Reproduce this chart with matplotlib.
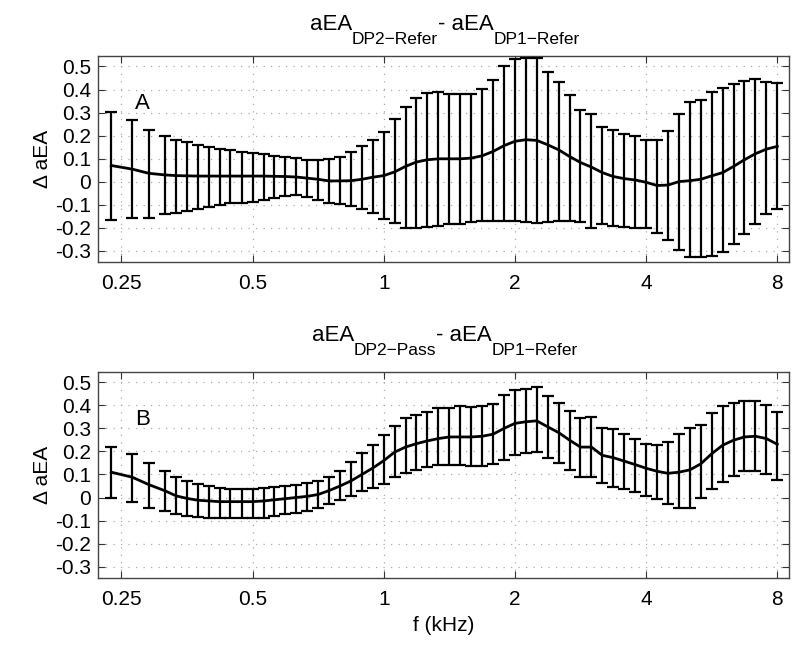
import matplotlib
matplotlib.use("Agg")
import matplotlib.pyplot as plt
from matplotlib.ticker import FixedLocator, FixedFormatter, NullLocator
import numpy as np

plt.rcParams['font.family'] = ['Liberation Sans', 'DejaVu Sans']

# ---- data ----
freq_khz = [0.237, 0.265, 0.289,
            0.315, 0.334, 0.354, 0.375, 0.397, 0.420, 0.445, 0.472,
            0.500, 0.530, 0.561, 0.595, 0.630, 0.667, 0.707, 0.749, 0.794, 0.841, 0.891, 0.944,
            1.000, 1.059, 1.122, 1.189, 1.260, 1.335, 1.414, 1.498, 1.587, 1.682, 1.782, 1.888,
            2.000, 2.119, 2.245, 2.378, 2.520, 2.670, 2.828, 2.997, 3.175, 3.364, 3.564, 3.775,
            4.000, 4.238, 4.490, 4.757, 5.040, 5.339, 5.657, 5.993, 6.350, 6.727, 7.127, 7.551,
            8.000]

# Panel A: aEA(DP2-Refer) - aEA(DP1-Refer)
a_mean = [0.070, 0.054, 0.036, 0.029, 0.026, 0.025, 0.024, 0.024, 0.024, 0.024,
          0.024, 0.024, 0.024, 0.023, 0.022, 0.020, 0.015, 0.010, 0.003, 0.003,
          0.004, 0.010, 0.019, 0.026, 0.042, 0.066, 0.085, 0.095, 0.099, 0.099,
          0.099, 0.102, 0.112, 0.131, 0.156, 0.175, 0.182, 0.179, 0.160, 0.138,
          0.109, 0.083, 0.063, 0.039, 0.022, 0.013, 0.007, -0.003, -0.017, -0.015,
          0.000, 0.004, 0.010, 0.025, 0.039, 0.066, 0.095, 0.121, 0.141, 0.153]
a_upper = [0.303, 0.267, 0.226, 0.200, 0.182, 0.171, 0.159, 0.150, 0.141, 0.136,
           0.130, 0.124, 0.120, 0.112, 0.106, 0.101, 0.095, 0.095, 0.098, 0.109,
           0.128, 0.153, 0.182, 0.214, 0.270, 0.324, 0.364, 0.386, 0.389, 0.379,
           0.379, 0.379, 0.404, 0.442, 0.500, 0.532, 0.535, 0.535, 0.477, 0.433,
           0.375, 0.313, 0.292, 0.236, 0.223, 0.208, 0.200, 0.182, 0.179, 0.219,
           0.294, 0.345, 0.353, 0.389, 0.408, 0.426, 0.437, 0.445, 0.433, 0.427]
a_lower = [-0.165, -0.157, -0.156, -0.141, -0.136, -0.128, -0.121, -0.112, -0.101, -0.095,
           -0.092, -0.087, -0.080, -0.073, -0.063, -0.060, -0.066, -0.080, -0.092, -0.098,
           -0.105, -0.120, -0.138, -0.163, -0.179, -0.201, -0.200, -0.197, -0.192, -0.185,
           -0.182, -0.175, -0.171, -0.171, -0.171, -0.171, -0.175, -0.178, -0.175, -0.171,
           -0.171, -0.175, -0.200, -0.182, -0.192, -0.197, -0.200, -0.200, -0.222, -0.255,
           -0.299, -0.328, -0.328, -0.324, -0.306, -0.270, -0.229, -0.182, -0.141, -0.121]

# Panel B: aEA(DP2-Pass) - aEA(DP1-Refer)
b_mean = [0.110, 0.088, 0.056, 0.029, 0.007, -0.004, -0.012, -0.015, -0.018, -0.018,
          -0.018, -0.018, -0.015, -0.010, -0.005, 0.000, 0.005, 0.013, 0.030, 0.050,
          0.072, 0.100, 0.128, 0.160, 0.197, 0.219, 0.234, 0.246, 0.256, 0.263,
          0.263, 0.263, 0.266, 0.275, 0.300, 0.322, 0.329, 0.333, 0.307, 0.282,
          0.249, 0.219, 0.219, 0.183, 0.173, 0.158, 0.143, 0.127, 0.114, 0.105,
          0.110, 0.120, 0.146, 0.190, 0.227, 0.249, 0.263, 0.266, 0.256, 0.231]
b_upper = [0.219, 0.187, 0.149, 0.117, 0.088, 0.070, 0.058, 0.048, 0.041, 0.039,
           0.039, 0.039, 0.041, 0.044, 0.051, 0.056, 0.061, 0.070, 0.087, 0.117,
           0.154, 0.193, 0.230, 0.270, 0.310, 0.344, 0.358, 0.370, 0.387, 0.390,
           0.398, 0.392, 0.398, 0.405, 0.446, 0.468, 0.472, 0.480, 0.439, 0.409,
           0.376, 0.344, 0.348, 0.303, 0.297, 0.275, 0.256, 0.231, 0.227, 0.241,
           0.275, 0.300, 0.314, 0.365, 0.398, 0.409, 0.420, 0.420, 0.402, 0.373]
b_lower = [0.000, -0.018, -0.047, -0.058, -0.073, -0.080, -0.085, -0.088, -0.091, -0.091,
           -0.091, -0.091, -0.088, -0.080, -0.073, -0.066, -0.058, -0.047, -0.029, -0.012,
           0.007, 0.029, 0.041, 0.058, 0.088, 0.105, 0.120, 0.132, 0.143, 0.143,
           0.142, 0.135, 0.137, 0.146, 0.161, 0.183, 0.193, 0.197, 0.171, 0.149,
           0.120, 0.088, 0.091, 0.061, 0.044, 0.037, 0.026, 0.007, -0.007, -0.029,
           -0.047, -0.044, 0.000, 0.037, 0.066, 0.092, 0.114, 0.114, 0.102, 0.076]

x_ticks = [0.25, 0.5, 1, 2, 4, 8]
x_ticklabels = ['0.25', '0.5', '1', '2', '4', '8']
y_ticks = [-0.3, -0.2, -0.1, 0.0, 0.1, 0.2, 0.3, 0.4, 0.5]
y_ticklabels = ['-0.3', '-0.2', '-0.1', '0', '0.1', '0.2', '0.3', '0.4', '0.5']

# title pieces: (text, is_subscript)
title_a = [('aEA', False), ('DP2\u2212Refer', True), ('- aEA', False), ('DP1\u2212Refer', True)]
title_b = [('aEA', False), ('DP2\u2212Pass', True), ('- aEA', False), ('DP1\u2212Refer', True)]
panel_letters = ['A', 'B']
ylabel = 'Δ aEA'
xlabel = 'f (kHz)'

# ---- figure ----
W, H = 800, 650
fig = plt.figure(figsize=(8, 6.5), dpi=100)
ax_a = fig.add_axes([0.1225, 0.597, 0.864, 0.317])
ax_b = fig.add_axes([0.1225, 0.111, 0.864, 0.317])

panels = [(ax_a, a_mean, a_upper, a_lower), (ax_b, b_mean, b_upper, b_lower)]
for i, (ax, m, up, lo) in enumerate(panels):
    m = np.array(m)
    up = np.array(up)
    lo = np.array(lo)
    yerr = np.vstack([m - lo, up - m])
    ax.errorbar(freq_khz, m, yerr=yerr, color='black', ecolor='black',
                elinewidth=1.6, capsize=4.2, capthick=1.6, lw=2.0, zorder=3)
    ax.set_xscale('log')
    ax.set_xlim(0.221, 8.52)
    ax.set_ylim(-0.349, 0.546)
    ax.xaxis.set_major_locator(FixedLocator(x_ticks))
    ax.xaxis.set_major_formatter(FixedFormatter(x_ticklabels))
    ax.xaxis.set_minor_locator(NullLocator())
    ax.yaxis.set_major_locator(FixedLocator(y_ticks))
    ax.yaxis.set_major_formatter(FixedFormatter(y_ticklabels))
    ax.tick_params(axis='both', which='major', direction='in', length=5,
                   width=0.8, color='#333333', labelsize=15, top=True, right=True)
    ax.tick_params(axis='x', pad=9)
    ax.tick_params(axis='y', pad=5)
    ax.grid(True, which='major', linestyle=(0, (1, 5)), color='#aaaaaa', linewidth=0.9)
    for s in ax.spines.values():
        s.set_color('#444444')
        s.set_linewidth(1.0)
    ax.set_ylabel(ylabel, fontsize=15, labelpad=2)
    ax.text(0.28, 0.34, panel_letters[i], fontsize=16, ha='center', va='center')

ax_b.set_xlabel(xlabel, fontsize=15, labelpad=5)

# ---- titles with MATLAB-style subscripts ----
renderer = fig.canvas.get_renderer()
main_fs, sub_fs, sub_drop = 16, 12.5, 14  # sub_drop in pixels
center_px = 445
for pieces, base_px in [(title_a, 30), (title_b, 341)]:
    texts = []
    for s, is_sub in pieces:
        t = fig.text(0, 0, s, fontsize=sub_fs if is_sub else main_fs,
                     ha='left', va='baseline')
        texts.append((t, is_sub))
    widths = [t.get_window_extent(renderer).width for t, _ in texts]
    x = center_px - sum(widths) / 2
    for (t, is_sub), w in zip(texts, widths):
        yb = base_px + (sub_drop if is_sub else 0)
        t.set_position((x / W, 1 - yb / H))
        x += w

fig.savefig('out.png', dpi=100)
